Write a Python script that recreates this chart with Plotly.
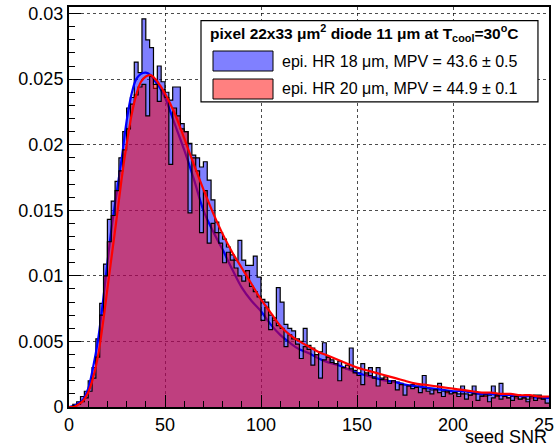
import plotly.graph_objects as go

# seed SNR histograms, 125 bins of width 2 from 0 to 250 (normalised)
bin_w = 2
hist_18um = [
    0.0000, 0.0002, 0.0004, 0.0008, 0.0012, 0.0020, 0.0030, 0.0052, 0.0079, 0.0109,
    0.0143, 0.0157, 0.0172, 0.0190, 0.0210, 0.0228, 0.0236, 0.0263, 0.0255, 0.0296,
    0.0280, 0.0274, 0.0243, 0.0260, 0.0248, 0.0240, 0.0234, 0.0244, 0.0244, 0.0216,
    0.0210, 0.0201, 0.0192, 0.0190, 0.0183, 0.0187, 0.0173, 0.0158, 0.0141, 0.0133,
    0.0128, 0.0122, 0.0116, 0.0112, 0.0127, 0.0112, 0.0108, 0.0108, 0.0115, 0.0099,
    0.0082, 0.0080, 0.0070, 0.0066, 0.0091, 0.0080, 0.0063, 0.0060, 0.0058, 0.0052,
    0.0050, 0.0060, 0.0047, 0.0045, 0.0040, 0.0042, 0.0049, 0.0038, 0.0036, 0.0033,
    0.0035, 0.0030, 0.0029, 0.0045, 0.0028, 0.0026, 0.0033, 0.0025, 0.0030, 0.0023,
    0.0030, 0.0022, 0.0021, 0.0020, 0.0020, 0.0019, 0.0018, 0.0017, 0.0016, 0.0017,
    0.0015, 0.0016, 0.0024, 0.0014, 0.0013, 0.0014, 0.0018, 0.0012, 0.0011, 0.0012,
    0.0011, 0.0010, 0.0016, 0.0010, 0.0009, 0.0016, 0.0010, 0.0009, 0.0008, 0.0009,
    0.0016, 0.0008, 0.0018, 0.0008, 0.0007, 0.0008, 0.0007, 0.0006, 0.0007, 0.0006,
    0.0007, 0.0009, 0.0009, 0.0006, 0.0007,
]
hist_20um = [
    0.0000, 0.0001, 0.0002, 0.0004, 0.0007, 0.0012, 0.0022, 0.0038, 0.0070, 0.0100,
    0.0126, 0.0146, 0.0165, 0.0180, 0.0196, 0.0212, 0.0231, 0.0238, 0.0244, 0.0246,
    0.0222, 0.0252, 0.0246, 0.0233, 0.0242, 0.0236, 0.0185, 0.0228, 0.0222, 0.0212,
    0.0210, 0.0148, 0.0190, 0.0180, 0.0133, 0.0165, 0.0125, 0.0140, 0.0133, 0.0125,
    0.0110, 0.0118, 0.0112, 0.0106, 0.0100, 0.0096, 0.0104, 0.0092, 0.0088, 0.0084,
    0.0066, 0.0076, 0.0059, 0.0068, 0.0062, 0.0060, 0.0046, 0.0055, 0.0052, 0.0048,
    0.0037, 0.0046, 0.0044, 0.0032, 0.0040, 0.0022, 0.0036, 0.0038, 0.0034, 0.0033,
    0.0020, 0.0030, 0.0032, 0.0029, 0.0026, 0.0024, 0.0017, 0.0026, 0.0024, 0.0022,
    0.0016, 0.0021, 0.0023, 0.0018, 0.0020, 0.0013, 0.0017, 0.0009, 0.0016, 0.0014,
    0.0015, 0.0011, 0.0014, 0.0012, 0.0010, 0.0013, 0.0011, 0.0008, 0.0012, 0.0010,
    0.0011, 0.0008, 0.0010, 0.0006, 0.0009, 0.0010, 0.0005, 0.0008, 0.0009, 0.0004,
    0.0007, 0.0009, 0.0006, 0.0008, 0.0007, 0.0005, 0.0008, 0.0006, 0.0007, 0.0004,
    0.0008, 0.0005, 0.0007, 0.0006, 0.0003,
]

# Landau fit curves
fit_x = [0, 2.5, 5, 7.5, 10, 12.5, 15, 17.5, 20, 22.5, 25, 27.5, 30, 32.5, 35, 37.5, 40, 42.5, 45, 47.5,
         50, 55, 60, 65, 70, 75, 80, 85, 90, 95, 100, 105, 110, 115, 120, 125, 130, 135, 140, 145,
         150, 155, 160, 165, 170, 175, 180, 185, 190, 195, 200, 205, 210, 215, 220, 225, 230, 235, 240, 245, 250]
fit_18um = [0, 0.0001, 0.0003, 0.0006, 0.0014, 0.0030, 0.0050, 0.0078, 0.0110, 0.0140,
            0.0165, 0.0190, 0.0218, 0.0238, 0.0250, 0.0254, 0.0255, 0.0253, 0.0248, 0.0243,
            0.0236, 0.0216, 0.0196, 0.0174, 0.0150, 0.0134, 0.0120, 0.0105, 0.0091, 0.0081,
            0.0073, 0.0063, 0.0055, 0.0049, 0.0044, 0.0041, 0.0037, 0.0034, 0.0032, 0.0029,
            0.0026, 0.0024, 0.0022, 0.0020, 0.0019, 0.0017, 0.0016, 0.0015, 0.0014, 0.0013,
            0.0012, 0.0012, 0.0011, 0.0010, 0.0010, 0.0009, 0.0009, 0.0008, 0.0008, 0.0007, 0.0007]
fit_20um = [0, 0.0000, 0.0002, 0.0005, 0.0011, 0.0022, 0.0038, 0.0062, 0.0090, 0.0118,
            0.0146, 0.0175, 0.0200, 0.0222, 0.0238, 0.0248, 0.0252, 0.0253, 0.0250, 0.0245,
            0.0239, 0.0224, 0.0205, 0.0185, 0.0166, 0.0148, 0.0132, 0.0118, 0.0106, 0.0094,
            0.0082, 0.0072, 0.0062, 0.0055, 0.0050, 0.0046, 0.0042, 0.0039, 0.0036, 0.0033,
            0.0030, 0.0028, 0.0026, 0.0024, 0.0022, 0.0020, 0.0018, 0.0017, 0.0016, 0.0015,
            0.0014, 0.0013, 0.0012, 0.0011, 0.0011, 0.0010, 0.0010, 0.0009, 0.0009, 0.0008, 0.0008]

labels = ["epi. HR 18 μm, MPV = 43.6 ± 0.5", "epi. HR 20 μm, MPV = 44.9 ± 0.1"]
header = "<b>pixel 22x33 μm<sup>2</sup> diode 11 μm at T<sub>cool</sub>=30<sup>o</sup>C</b>"

FONT = "Liberation Sans, Arial, sans-serif"


def step_trace(vals, fill):
    # ROOT-like step outline: left edges plus closing edge
    xs = [i * bin_w for i in range(len(vals) + 1)]
    ys = list(vals) + [vals[-1]]
    return go.Scatter(x=xs, y=ys, mode="lines", line_shape="hv",
                      line=dict(color="black", width=1.2),
                      fill="tozeroy", fillcolor=fill, hoverinfo="skip", showlegend=False)


fig = go.Figure()
fig.add_trace(step_trace(hist_18um, "rgba(0,0,255,0.5)"))
fig.add_trace(go.Scatter(x=fit_x, y=fit_18um, mode="lines", line_shape="spline",
                         line=dict(color="rgb(0,0,255)", width=2.2), showlegend=False))
fig.add_trace(step_trace(hist_20um, "rgba(255,0,0,0.5)"))
fig.add_trace(go.Scatter(x=fit_x, y=fit_20um, mode="lines", line_shape="spline",
                         line=dict(color="rgb(255,0,0)", width=2.2), showlegend=False))

# legend box drawn by hand, ROOT style
shapes = [
    dict(type="rect", xref="paper", yref="paper", x0=0.275, x1=0.977, y0=0.763, y1=0.966,
         line=dict(color="black", width=1.2), fillcolor="white", layer="above"),
    dict(type="rect", xref="paper", yref="paper", x0=0.300, x1=0.425, y0=0.84, y1=0.89,
         line=dict(color="black", width=1), fillcolor="rgb(128,128,255)", layer="above"),
    dict(type="rect", xref="paper", yref="paper", x0=0.300, x1=0.425, y0=0.77, y1=0.82,
         line=dict(color="black", width=1), fillcolor="rgb(255,128,128)", layer="above"),
]
annotations = [
    dict(text=header, xref="paper", yref="paper", x=0.29, y=0.935, xanchor="left",
         yanchor="middle", showarrow=False, font=dict(size=15.5, color="black", family=FONT)),
    dict(text=labels[0], xref="paper", yref="paper", x=0.44, y=0.865, xanchor="left",
         yanchor="middle", showarrow=False, font=dict(size=16, color="black", family=FONT)),
    dict(text=labels[1], xref="paper", yref="paper", x=0.44, y=0.795, xanchor="left",
         yanchor="middle", showarrow=False, font=dict(size=16, color="black", family=FONT)),
    dict(text="seed SNR", xref="paper", yref="paper", x=1.0, y=-0.075, xanchor="right",
         yanchor="middle", showarrow=False, font=dict(size=18, color="black", family=FONT)),
]

fig.update_layout(
    width=554, height=446,
    margin=dict(l=69, r=5, t=7, b=39),
    paper_bgcolor="white", plot_bgcolor="white",
    font=dict(family=FONT, size=18, color="black"),
    shapes=shapes, annotations=annotations,
    showlegend=False,
)
fig.update_xaxes(
    range=[0, 250], tickvals=[0, 50, 100, 150, 200, 250], automargin=False,
    ticklabeloverflow="allow",
    ticks="inside", ticklen=12, tickwidth=1, tickcolor="black",
    minor=dict(ticks="inside", ticklen=6, dtick=10, tickcolor="black", showgrid=False),
    showline=True, linecolor="black", linewidth=2, mirror=True,
    showgrid=True, gridcolor="rgba(0,0,0,0.7)", griddash="dot", gridwidth=1, zeroline=False,
)
fig.update_yaxes(
    range=[0, 0.0305], tickvals=[0, 0.005, 0.01, 0.015, 0.02, 0.025, 0.03], automargin=False,
    ticks="inside", ticklen=12, tickwidth=1, tickcolor="black",
    minor=dict(ticks="inside", ticklen=6, dtick=0.001, tickcolor="black", showgrid=False),
    showline=True, linecolor="black", linewidth=2, mirror=True,
    showgrid=True, gridcolor="rgba(0,0,0,0.7)", griddash="dot", gridwidth=1, zeroline=False,
)

# drop the default page margin so the figure sits at the window's corner
fig.write_html("out.html", config={"displayModeBar": False},
               post_script="document.body.style.margin='0px';")
